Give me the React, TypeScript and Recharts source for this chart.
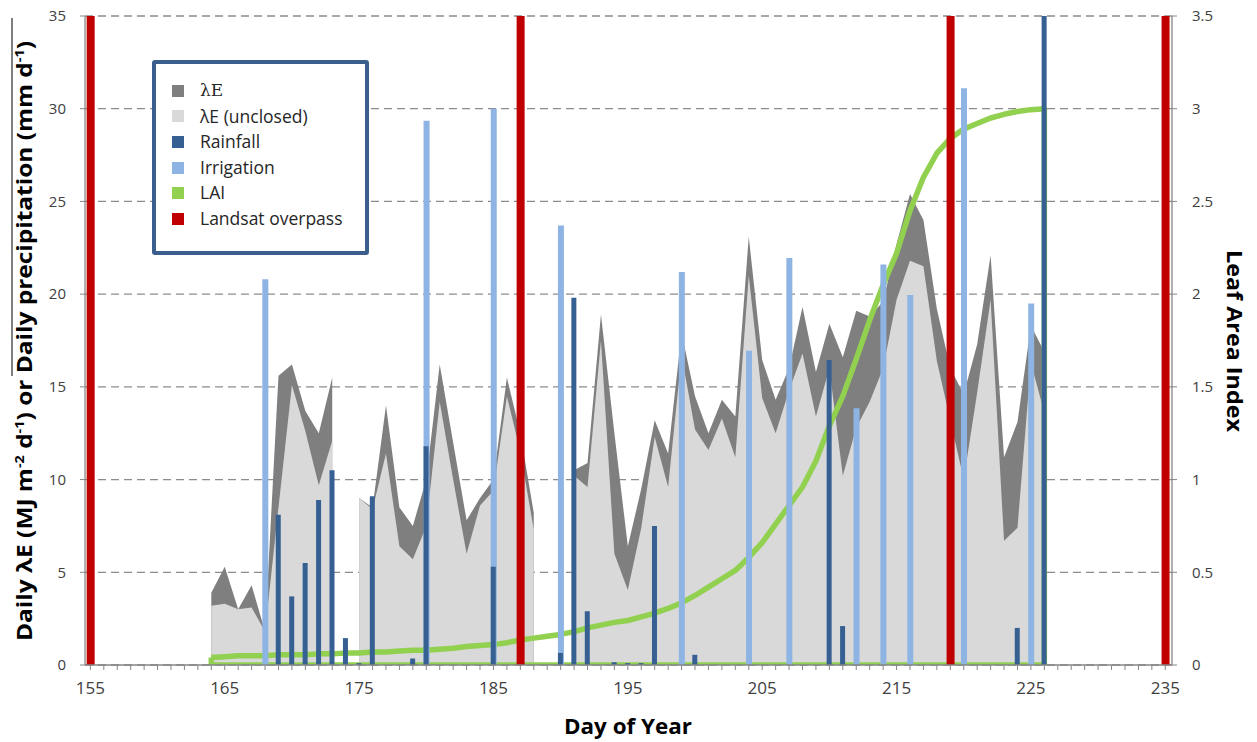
import React from 'react';
import { ComposedChart, Area, Bar, Line, XAxis, YAxis, CartesianGrid } from 'recharts';

// ---------- data ----------
const FIRST_DAY = 155;
const LAST_DAY = 235;
const FLUX_START_DAY = 164;

// Daily λE (MJ m-2 d-1), closed, days 164..226 (null = no data)
const leTotal: (number | null)[] = [
  3.9, 5.3, 3.0, 4.3, 1.8, 15.6, 16.2, 13.7, 12.5, 15.5,
  null, 9.0, 8.5, 14.0, 8.5, 7.5, 10.0, 16.2, 12.0, 7.8,
  9.0, 10.0, 15.5, 12.5, 8.2, null, null, 10.5, 10.9, 18.9,
  12.5, 6.4, 9.5, 13.2, 11.4, 17.9, 14.5, 12.5, 14.3, 13.4,
  23.1, 16.45, 14.3, 16.0, 19.3, 15.8, 18.4, 16.6, 19.1, 18.8,
  19.6, 22.7, 25.4, 24.0, 19.2, 16.0, 14.6, 17.3, 22.1, 11.2,
  13.1, 18.3, 16.9,
];

// Daily λE (unclosed), days 164..226
const leUnclosed: (number | null)[] = [
  3.2, 3.3, 3.0, 3.1, 1.8, 8.5, 15.1, 12.6, 9.7, 12.1,
  null, 9.0, 8.4, 11.4, 6.4, 5.7, 7.5, 14.2, 10.0, 6.0,
  8.6, 9.4, 14.5, 11.5, 7.3, null, null, 10.2, 9.6, 17.5,
  6.0, 4.05, 7.4, 12.3, 9.6, 16.7, 12.7, 11.6, 13.3, 11.2,
  21.0, 14.4, 12.5, 14.8, 16.8, 13.4, 16.0, 10.2, 12.8, 14.2,
  16.0, 19.7, 21.8, 21.5, 16.4, 13.2, 10.0, 14.7, 19.7, 6.7,
  7.4, 16.3, 13.6,
];

// Leaf area index, days 164..226
const laiValues: number[] = [
  0.04, 0.045, 0.05, 0.05, 0.05, 0.055, 0.055, 0.055, 0.06, 0.06,
  0.065, 0.065, 0.07, 0.07, 0.075, 0.08, 0.08, 0.085, 0.09, 0.1,
  0.105, 0.11, 0.12, 0.135, 0.145, 0.155, 0.165, 0.18, 0.2, 0.215,
  0.23, 0.24, 0.26, 0.28, 0.305, 0.335, 0.375, 0.42, 0.465, 0.51,
  0.58, 0.66, 0.76, 0.86, 0.96, 1.1, 1.29, 1.45, 1.65, 1.86,
  2.05, 2.22, 2.45, 2.63, 2.76, 2.84, 2.89, 2.92, 2.95, 2.97,
  2.985, 2.995, 3.0,
];

const rainDays = [169, 170, 171, 172, 173, 174, 175, 176, 179, 180, 185, 190, 191, 192, 194, 195, 196, 197, 200, 210, 211, 224, 226];
const rainfall = [8.1, 3.7, 5.5, 8.9, 10.5, 1.45, 0.1, 9.1, 0.35, 11.8, 5.3, 0.65, 19.8, 2.9, 0.15, 0.1, 0.1, 7.5, 0.55, 16.45, 2.1, 2.0, 35];

const irrigationDays = [168, 180, 185, 190, 199, 204, 207, 212, 214, 216, 220, 225];
const irrigation = [20.8, 29.35, 30.0, 23.7, 21.2, 16.95, 21.95, 13.85, 21.6, 19.95, 31.1, 19.5];

const landsatDays = [155, 187, 219, 235];
const landsatHeight = 35;

const leftTicks = [0, 5, 10, 15, 20, 25, 30, 35];
const rightTicks = [0, 0.5, 1, 1.5, 2, 2.5, 3, 3.5];

const legendItems = [
  { name: 'λE', color: '#7f7f7f', serif: true },
  { name: 'λE (unclosed)', color: '#d9d9d9', serif: false },
  { name: 'Rainfall', color: '#366092', serif: false },
  { name: 'Irrigation', color: '#8eb4e3', serif: false },
  { name: 'LAI', color: '#92d050', serif: false },
  { name: 'Landsat overpass', color: '#c00000', serif: false },
];

// ---------- table built from the arrays ----------
const allDays = Array.from({ length: LAST_DAY - FIRST_DAY + 1 }, (_, i) => FIRST_DAY + i);
const fluxDays = leTotal.map((_, i) => FLUX_START_DAY + i);

const rows = allDays.map((day) => {
  const k = day - FLUX_START_DAY;
  const inFlux = k >= 0 && k < leTotal.length;
  const ri = rainDays.indexOf(day);
  const ii = irrigationDays.indexOf(day);
  return {
    day,
    le: inFlux ? leTotal[k] : null,
    leu: inFlux ? leUnclosed[k] : null,
    rain: ri >= 0 ? rainfall[ri] : null,
    irr: ii >= 0 ? irrigation[ii] : null,
    landsat: landsatDays.includes(day) ? landsatHeight : null,
  };
});

// LAI drawn as an outlined (unfilled) area: curve, then back along zero
const laiOutline = [
  ...fluxDays.map((day, i) => ({ day, lai: laiValues[i] })),
  { day: fluxDays[fluxDays.length - 1], lai: 0 },
  { day: fluxDays[0], lai: 0 },
  { day: fluxDays[0], lai: laiValues[0] },
];

const X_DOMAIN: [number, number] = [154.6, 235.5];
const AXIS_COLOR = '#868686';
const TICK_COLOR = '#404040';

const XTick = (props: any) => {
  const { x, y, payload } = props;
  if ((payload.value - FIRST_DAY) % 10 !== 0) return <g />;
  return (
    <text x={x} y={y + 22} textAnchor="middle" fill={TICK_COLOR} fontSize={17} fontFamily="Open Sans">
      {payload.value}
    </text>
  );
};

export default function App() {
  const W = 1257;
  const H = 742;
  return (
    <div style={{ position: 'absolute', left: 0, top: 0, width: W, height: H, background: '#fff' }}>
      <ComposedChart width={W} height={H} data={rows} margin={{ top: 16, right: 30, bottom: 37, left: 30 }}>
        <CartesianGrid xAxisId="a_main" yAxisId="left" vertical={false} stroke="#8c8c8c" strokeWidth={1.3} strokeDasharray="8 5" />
        <XAxis
          xAxisId="a_main"
          dataKey="day"
          type="number"
          domain={X_DOMAIN}
          allowDataOverflow
          ticks={allDays}
          interval={0}
          height={40}
          tickSize={5}
          tick={<XTick />}
          axisLine={{ stroke: AXIS_COLOR, strokeWidth: 1.3 }}
          tickLine={{ stroke: AXIS_COLOR }}
        />
        <XAxis xAxisId="b_irr" dataKey="day" type="number" domain={X_DOMAIN} allowDataOverflow hide height={0} />
        <XAxis xAxisId="c_rain" dataKey="day" type="number" domain={X_DOMAIN} allowDataOverflow hide height={0} />
        <XAxis xAxisId="d_sat" dataKey="day" type="number" domain={X_DOMAIN} allowDataOverflow hide height={0} />
        <YAxis
          yAxisId="left"
          domain={[0, 35]}
          ticks={leftTicks}
          width={55}
          tickSize={5}
          tickMargin={14}
          axisLine={{ stroke: AXIS_COLOR, strokeWidth: 1.3 }}
          tickLine={{ stroke: AXIS_COLOR }}
          tick={{ fill: TICK_COLOR, fontSize: 15, fontFamily: 'Open Sans' }}
        />
        <YAxis
          yAxisId="right"
          orientation="right"
          domain={[0, 3.5]}
          ticks={rightTicks}
          allowDataOverflow
          width={55}
          tickSize={5}
          tickMargin={15}
          axisLine={{ stroke: AXIS_COLOR, strokeWidth: 1.3 }}
          tickLine={{ stroke: AXIS_COLOR }}
          tick={{ fill: TICK_COLOR, fontSize: 15, fontFamily: 'Open Sans' }}
        />
        <Area xAxisId="a_main" yAxisId="left" type="linear" dataKey="le" fill="#7f7f7f" fillOpacity={1} stroke="none" dot={false} activeDot={false} isAnimationActive={false} />
        <Area xAxisId="a_main" yAxisId="left" type="linear" dataKey="leu" fill="#d9d9d9" fillOpacity={1} stroke="none" dot={false} activeDot={false} isAnimationActive={false} />
        <Line xAxisId="a_main" yAxisId="right" data={laiOutline} dataKey="lai" type="linear" stroke="#92d050" strokeWidth={5.5} dot={false} activeDot={false} strokeLinejoin="round" isAnimationActive={false} {...({ zIndex: 250 } as any)} />
        <Bar xAxisId="b_irr" yAxisId="left" dataKey="irr" fill="#8eb4e3" barSize={6} isAnimationActive={false} />
        <Bar xAxisId="c_rain" yAxisId="left" dataKey="rain" fill="#366092" barSize={5} isAnimationActive={false} />
        <Bar xAxisId="d_sat" yAxisId="left" dataKey="landsat" fill="#c00000" barSize={8} isAnimationActive={false} />
      </ComposedChart>

      <svg width={W} height={H} style={{ position: 'absolute', left: 0, top: 0, pointerEvents: 'none' }}>
        <line x1={12} y1={18} x2={12} y2={376} stroke="#000" strokeWidth={1} />
        <text
          transform="translate(32,341) rotate(-90)"
          textAnchor="middle"
          fontFamily="Open Sans"
          fontWeight="bold"
          fontSize={22}
          fill="#000"
          textLength={600}
          lengthAdjust="spacingAndGlyphs"
        >
          Daily λE (MJ m<tspan dy={-8} fontSize={13}>-2</tspan>
          <tspan dy={8}> d</tspan>
          <tspan dy={-8} fontSize={13}>-1</tspan>
          <tspan dy={8}>) or Daily precipitation (mm d</tspan>
          <tspan dy={-8} fontSize={13}>-1</tspan>
          <tspan dy={8}>)</tspan>
        </text>
        <text
          transform="translate(1227,341) rotate(90)"
          textAnchor="middle"
          fontFamily="Open Sans"
          fontWeight="bold"
          fontSize={22}
          fill="#000"
          textLength={182}
          lengthAdjust="spacingAndGlyphs"
        >
          Leaf Area Index
        </text>
        <text
          x={628}
          y={734}
          textAnchor="middle"
          fontFamily="Open Sans"
          fontWeight="bold"
          fontSize={22}
          fill="#000"
          textLength={128}
          lengthAdjust="spacingAndGlyphs"
        >
          Day of Year
        </text>
      </svg>

      <div
        style={{
          position: 'absolute',
          left: 152,
          top: 60,
          width: 217,
          height: 195,
          boxSizing: 'border-box',
          border: '4px solid #3b5f8d',
          borderRadius: 3,
          background: '#fff',
          paddingTop: 14,
        }}
      >
        {legendItems.map((it) => (
          <div key={it.name} style={{ display: 'flex', alignItems: 'center', height: 25.6 }}>
            <div style={{ width: 12, height: 12, background: it.color, marginLeft: 16, marginRight: 16, flex: 'none' }} />
            <span
              style={{
                fontFamily: it.serif ? 'DejaVu Serif' : 'Open Sans',
                fontSize: it.serif ? 17 : 17.5,
                color: '#262626',
                whiteSpace: 'nowrap',
                lineHeight: 1,
              }}
            >
              {it.name}
            </span>
          </div>
        ))}
      </div>
    </div>
  );
}
